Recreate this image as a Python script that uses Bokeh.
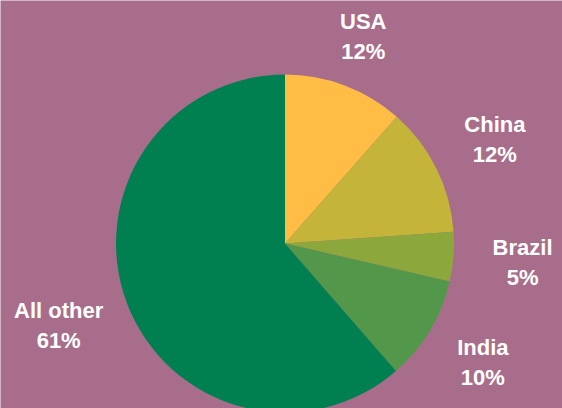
import math
from bokeh.plotting import figure
from bokeh.models import ColumnDataSource, Range1d
from bokeh.core.properties import value
from bokeh.embed import file_html
from bokeh.resources import INLINE

# Data
countries = ["USA", "China", "Brazil", "India", "All other"]
shares = [11.5, 12.4, 4.7, 10.0, 61.4]
share_labels = ["12%", "12%", "5%", "10%", "61%"]
colors = ["#FFBD45", "#C4B53A", "#8CA83C", "#53974A", "#008050"]

# Layout
W, H = 562, 408
BG = "#A96D8C"
cx, cy, r = 284.5, 408 - 243, 169
label_r = [1.31, 1.385, 1.41, 1.365, 1.43]
label_dy = [0, 0, 0, 0, 3]

total = sum(shares)
starts, ends, lx, ly = [], [], [], []
cum = 0.0
for s, k, d in zip(shares, label_r, label_dy):
    a0 = math.pi / 2 - 2 * math.pi * cum / total
    cum += s
    a1 = math.pi / 2 - 2 * math.pi * cum / total
    starts.append(a0)
    ends.append(a1)
    mid = (a0 + a1) / 2
    lx.append(cx + k * r * math.cos(mid))
    ly.append(cy + k * r * math.sin(mid) + d)

src = ColumnDataSource(dict(country=countries, share=shares, label=share_labels,
                            color=colors, start=starts, end=ends, lx=lx, ly=ly))

p = figure(width=W, height=H, output_backend="svg", toolbar_location=None,
           x_range=Range1d(0, W), y_range=Range1d(0, H), min_border=0)
p.axis.visible = False
p.grid.visible = False
p.outline_line_color = None
p.background_fill_color = BG
p.border_fill_color = BG

p.wedge(x=cx, y=cy, radius=r, start_angle="start", end_angle="end",
        direction="clock", fill_color="color", line_color=None, source=src)

common = dict(text_font=value("Liberation Sans"), text_font_style="bold",
              text_font_size="22px", text_color="#FFFFFF",
              text_align="center", text_baseline="middle", source=src)
p.text(x="lx", y="ly", text="country", y_offset=-15, **common)
p.text(x="lx", y="ly", text="label", y_offset=15, **common)

open("out.html", "w").write(file_html(p, INLINE))
